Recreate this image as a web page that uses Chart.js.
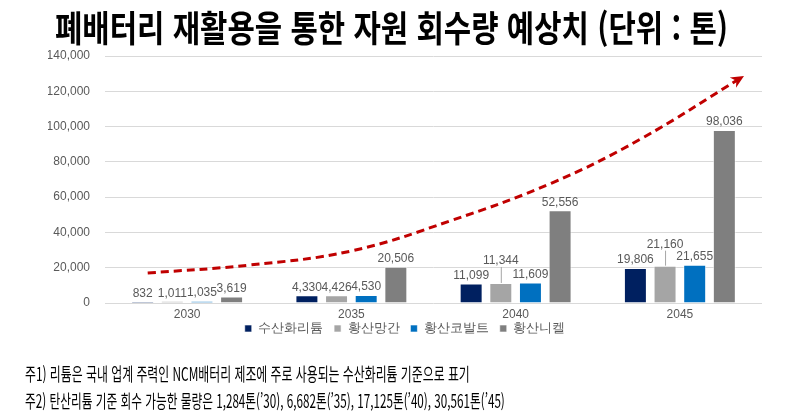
<!DOCTYPE html>
<html lang="ko">
<head>
<meta charset="UTF-8">
<title>폐배터리 재활용을 통한 자원 회수량 예상치</title>
<script src="https://cdn.jsdelivr.net/npm/chart.js"></script>
<style>
  body { margin: 0; background: #fff; font-family: "Noto Sans CJK KR", sans-serif; }
  #wrap { position: relative; width: 800px; height: 420px; overflow: hidden; }
  #chart { position: absolute; left: 0; top: 0; }
  .fit { position: absolute; white-space: nowrap; transform-origin: left center; color: #000; }
  #title { top: 4px; font-size: 36px; font-weight: 700; line-height: 44px; }
  .note { left: 25px; font-size: 18px; line-height: 22px; }
  #note1 { top: 362px; }
  #note2 { top: 389px; }
</style>
</head>
<body>
<div id="wrap">
  <canvas id="chart" width="800" height="420"></canvas>
  <div id="title" class="fit" data-left="55" data-width="673">폐배터리 재활용을 통한 자원 회수량 예상치 (단위 : 톤)</div>
  <div id="note1" class="fit note" data-left="25" data-width="445">주1) 리튬은 국내 업계 주력인 NCM배터리 제조에 주로 사용되는 수산화리튬 기준으로 표기</div>
  <div id="note2" class="fit note" data-left="25" data-width="480">주2) 탄산리튬 기준 회수 가능한 물량은 1,284톤(’30), 6,682톤(’35), 17,125톤(’40), 30,561톤(’45)</div>
</div>

<script>
  // data
  const years = [2030, 2035, 2040, 2045];
  const seriesNames = ['수산화리튬', '황산망간', '황산코발트', '황산니켈'];
  const lithiumHydroxide = [832, 4330, 11099, 19806];
  const manganeseSulfate = [1011, 4426, 11344, 21160];
  const cobaltSulfate = [1035, 4530, 11609, 21655];
  const nickelSulfate = [3619, 20506, 52556, 98036];
  const yMax = 140000;
  const yStep = 20000;

  // red trend arrow (year, tonnes)
  const trendX = [2028.8, 2031.9, 2035.0, 2038.0, 2041.1, 2043.8, 2046.9];
  const trendY = [17000, 21500, 29500, 46500, 68000, 92900, 128100];

  const colors = ['#002060', '#a5a5a5', '#0070c0', '#7f7f7f'];
  const seriesValues = [lithiumHydroxide, manganeseSulfate, cobaltSulfate, nickelSulfate];
  const labelFont = '"Liberation Sans", Arial, sans-serif';

  // squeeze the html text to the width it has in the picture
  document.querySelectorAll('.fit').forEach(el => {
    el.style.left = el.dataset.left + 'px';
    el.style.transform = 'scaleX(' + (el.dataset.width / el.scrollWidth) + ')';
  });

  // labels lifted above the bar with a short leader line
  const raised = { '1-2': 14, '1-3': 13 };

  const barLabels = {
    id: 'barLabels',
    afterDatasetsDraw(chart) {
      const ctx = chart.ctx;
      ctx.save();
      ctx.font = '12px ' + labelFont;
      ctx.fillStyle = '#595959';
      ctx.textAlign = 'center';
      ctx.textBaseline = 'bottom';
      chart.data.datasets.forEach((ds, di) => {
        if (ds.type === 'line') return;
        chart.getDatasetMeta(di).data.forEach((bar, i) => {
          const lift = raised[di + '-' + i] || 0;
          const y = bar.y - 2 - lift;
          if (lift) {
            ctx.strokeStyle = '#a6a6a6';
            ctx.lineWidth = 1;
            ctx.beginPath();
            ctx.moveTo(bar.x + 0.5, y);
            ctx.lineTo(bar.x + 0.5, bar.y);
            ctx.stroke();
          }
          ctx.fillText(ds.data[i].toLocaleString('en-US'), bar.x, y);
        });
      });
      ctx.restore();
    }
  };

  const arrowHead = {
    id: 'arrowHead',
    afterDatasetsDraw(chart) {
      const pts = chart.getDatasetMeta(4).data;
      const end = pts[pts.length - 1];
      const prev = pts[pts.length - 2];
      const fx = end.cp1x !== undefined ? end.cp1x : prev.x;
      const fy = end.cp1y !== undefined ? end.cp1y : prev.y;
      const ang = Math.atan2(end.y - fy, end.x - fx);
      const ctx = chart.ctx;
      ctx.save();
      ctx.translate(end.x, end.y);
      ctx.rotate(ang);
      ctx.fillStyle = '#c00000';
      ctx.beginPath();
      ctx.moveTo(2, 0);
      ctx.lineTo(-11, -6);
      ctx.lineTo(-7, 0);
      ctx.lineTo(-11, 6);
      ctx.closePath();
      ctx.fill();
      ctx.restore();
    }
  };

  const datasets = seriesNames.map((name, k) => ({
    type: 'bar',
    label: name,
    data: seriesValues[k],
    backgroundColor: colors[k],
    borderColor: 'rgba(255,255,255,0.6)',
    borderWidth: 1,
    categoryPercentage: 0.722,
    barPercentage: 0.775,
    order: 1
  }));

  datasets.push({
    type: 'line',
    label: 'trend',
    data: trendX.map((x, i) => ({ x: x, y: trendY[i] })),
    borderColor: '#c00000',
    borderWidth: 3,
    borderDash: [8, 5],
    pointRadius: 0,
    tension: 0.4,
    fill: false,
    clip: false,
    order: 0
  });

  new Chart(document.getElementById('chart'), {
    type: 'bar',
    data: { labels: years, datasets: datasets },
    options: {
      responsive: false,
      animation: false,
      devicePixelRatio: 1,
      layout: { padding: { left: 48, right: 38, top: 56, bottom: 75 } },
      plugins: {
        tooltip: { enabled: false },
        legend: {
          position: 'bottom',
          labels: {
            // spacing between legend items, last one left bare so the row stays centred
            generateLabels: chart => Chart.defaults.plugins.legend.labels.generateLabels(chart)
              .filter(item => item.datasetIndex < 4)
              .map((item, i) => Object.assign(item, { text: i < 3 ? item.text + '   ' : item.text })),
            boxWidth: 7,
            boxHeight: 7,
            padding: 0,
            color: '#595959',
            font: { family: labelFont, size: 13 }
          }
        }
      },
      scales: {
        x: {
          type: 'linear',
          min: 2027.5,
          max: 2047.5,
          offset: false,
          grid: { display: false, drawTicks: false },
          border: { display: false },
          afterBuildTicks: scale => { scale.ticks = years.map(v => ({ value: v })); },
          afterFit: scale => { scale.height = 19; },
          ticks: {
            color: '#595959',
            padding: 6,
            font: { family: labelFont, size: 12, lineHeight: 1 },
            callback: v => String(v)
          }
        },
        y: {
          min: 0,
          max: yMax,
          grid: { color: '#d9d9d9', drawTicks: false },
          border: { display: false },
          afterFit: scale => { scale.width = 57; },
          ticks: {
            stepSize: yStep,
            padding: 15,
            color: '#595959',
            font: { family: labelFont, size: 12 },
            callback: v => v.toLocaleString('en-US')
          }
        }
      }
    },
    plugins: [barLabels, arrowHead]
  });
</script>
</body>
</html>
